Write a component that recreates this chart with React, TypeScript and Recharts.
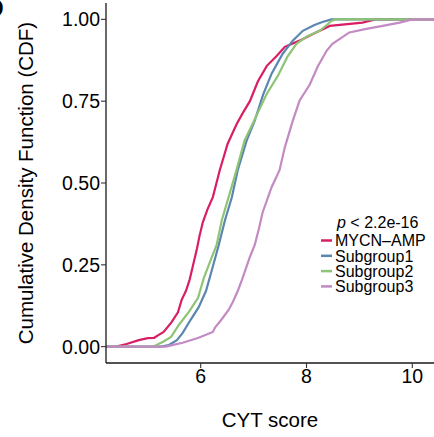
import React from "react";
import { LineChart, Line, XAxis, YAxis } from "recharts";

type Pt = { x: number; y: number };
const mk = (a: number[][]): Pt[] => a.map(([x, y]) => ({ x, y }));

const seriesNames = ["MYCN\u2013AMP", "Subgroup1", "Subgroup2", "Subgroup3"];
const seriesColors = ["#D81E64", "#5A86B0", "#8FC476", "#C38AC3"];

const mycnAmp: number[][] = [
  [4.21, 0], [4.4, 0], [4.6, 0.008], [4.83, 0.02], [5.0, 0.026], [5.12, 0.027],
  [5.2, 0.035], [5.3, 0.045], [5.45, 0.075], [5.57, 0.105], [5.64, 0.143],
  [5.72, 0.17], [5.79, 0.204], [5.85, 0.245], [5.93, 0.3], [5.98, 0.34],
  [6.04, 0.38], [6.13, 0.42], [6.23, 0.457], [6.36, 0.539], [6.51, 0.62],
  [6.68, 0.68], [6.8, 0.715], [6.93, 0.75], [7.08, 0.81], [7.25, 0.858],
  [7.44, 0.889], [7.59, 0.916], [7.87, 0.935], [8.12, 0.955], [8.44, 0.98],
  [9.06, 0.99], [9.3, 1.0], [10.41, 1.0],
];
const subgroup1: number[][] = [
  [4.21, 0], [5.25, 0], [5.4, 0.005], [5.55, 0.02], [5.66, 0.042], [5.81, 0.082],
  [5.96, 0.12], [6.1, 0.17], [6.23, 0.245], [6.34, 0.31], [6.46, 0.387],
  [6.59, 0.457], [6.7, 0.539], [6.87, 0.63], [7.02, 0.69], [7.18, 0.77],
  [7.34, 0.834], [7.55, 0.895], [7.74, 0.935], [7.93, 0.965], [8.15, 0.983],
  [8.3, 0.992], [8.47, 1.0], [10.41, 1.0],
];
const subgroup2: number[][] = [
  [4.21, 0], [5.1, 0], [5.29, 0.015], [5.44, 0.03], [5.59, 0.067], [5.78, 0.107],
  [5.95, 0.149], [6.06, 0.21], [6.19, 0.265], [6.3, 0.31], [6.4, 0.387],
  [6.55, 0.469], [6.66, 0.53], [6.83, 0.63], [6.98, 0.68], [7.25, 0.773],
  [7.46, 0.828], [7.64, 0.886], [7.81, 0.925], [8.0, 0.947], [8.25, 0.965],
  [8.4, 0.985], [8.47, 0.995], [8.55, 1.0], [10.41, 1.0],
];
const subgroup3: number[][] = [
  [4.21, 0], [5.34, 0], [5.5, 0.006], [5.66, 0.012], [5.96, 0.027], [6.23, 0.045],
  [6.27, 0.058], [6.38, 0.08], [6.53, 0.113], [6.61, 0.137], [6.7, 0.17],
  [6.78, 0.204], [6.93, 0.274], [7.02, 0.31], [7.1, 0.36], [7.17, 0.41],
  [7.34, 0.487], [7.49, 0.539], [7.59, 0.609], [7.74, 0.69], [7.87, 0.752],
  [8.06, 0.8], [8.21, 0.855], [8.38, 0.904], [8.49, 0.925], [8.81, 0.96],
  [9.13, 0.971], [9.44, 0.98], [9.76, 0.99], [10.0, 1.0], [10.41, 1.0],
];

const allSeries = [mycnAmp, subgroup1, subgroup2, subgroup3].map(mk);

const xTicks = [6, 8, 10];
const yTicks = [0, 0.25, 0.5, 0.75, 1.0];
const xTitle = "CYT score";
const yTitle = "Cumulative Density Function (CDF)";
const legendTitleP = "p";
const legendTitleRest = " < 2.2e-16";
const panelLetter = "D";

const FONT = "'Liberation Sans', Arial, Helvetica, sans-serif";

export default function App() {
  return (
    <div style={{ position: "absolute", left: 0, top: 0, width: 434, height: 437, background: "#fff" }}>
      <LineChart
        width={434}
        height={437}
        margin={{ top: 3, right: 0, bottom: 0, left: 0 }}
        style={{ fontFamily: FONT }}
      >
        <XAxis
          type="number"
          dataKey="x"
          domain={[4.21, 10.41]}
          allowDataOverflow
          ticks={xTicks}
          height={74}
          tickSize={5}
          tickMargin={1}
          axisLine={{ stroke: "#1a1a1a", strokeWidth: 1.3 }}
          tickLine={{ stroke: "#333", strokeWidth: 1.1 }}
          tick={{ fill: "#000", fontSize: 19.5, fontFamily: FONT }}
        />
        <YAxis
          type="number"
          dataKey="y"
          domain={[-0.05, 1.05]}
          allowDataOverflow
          ticks={yTicks}
          width={106}
          tickSize={5}
          tickMargin={1}
          tickFormatter={(v: number) => v.toFixed(2)}
          axisLine={{ stroke: "#1a1a1a", strokeWidth: 1.3 }}
          tickLine={{ stroke: "#333", strokeWidth: 1.1 }}
          tick={{ fill: "#000", fontSize: 19.5, fontFamily: FONT }}
        />
        {allSeries.map((d, i) => (
          <Line
            key={seriesNames[i]}
            data={d}
            dataKey="y"
            name={seriesNames[i]}
            type="linear"
            stroke={seriesColors[i]}
            strokeWidth={2.2}
            dot={false}
            activeDot={false}
            isAnimationActive={false}
          />
        ))}
      </LineChart>
      <svg
        width={434}
        height={437}
        style={{ position: "absolute", left: 0, top: 0, pointerEvents: "none", fontFamily: FONT }}
      >
        <text x={-15} y={17} fontSize={26} fontWeight="bold" fill="#000">{panelLetter}</text>
        <text x={33} y={183} transform="rotate(-90 33 183)" textAnchor="middle" fontSize={20.5} fill="#000">
          {yTitle}
        </text>
        <text x={270} y={427} textAnchor="middle" fontSize={20.5} fill="#000">{xTitle}</text>
        <text x={337} y={228} fontSize={16} fill="#000">
          <tspan fontStyle="italic">{legendTitleP}</tspan>
          <tspan>{legendTitleRest}</tspan>
        </text>
        {seriesNames.map((n, i) => {
          const cy = 240.5 + i * 15.3;
          return (
            <g key={n}>
              <line x1={321} x2={332} y1={cy} y2={cy} stroke={seriesColors[i]} strokeWidth={2.5} />
              <text x={335} y={cy + 5.7} fontSize={16} fill="#000">{n}</text>
            </g>
          );
        })}
      </svg>
    </div>
  );
}
